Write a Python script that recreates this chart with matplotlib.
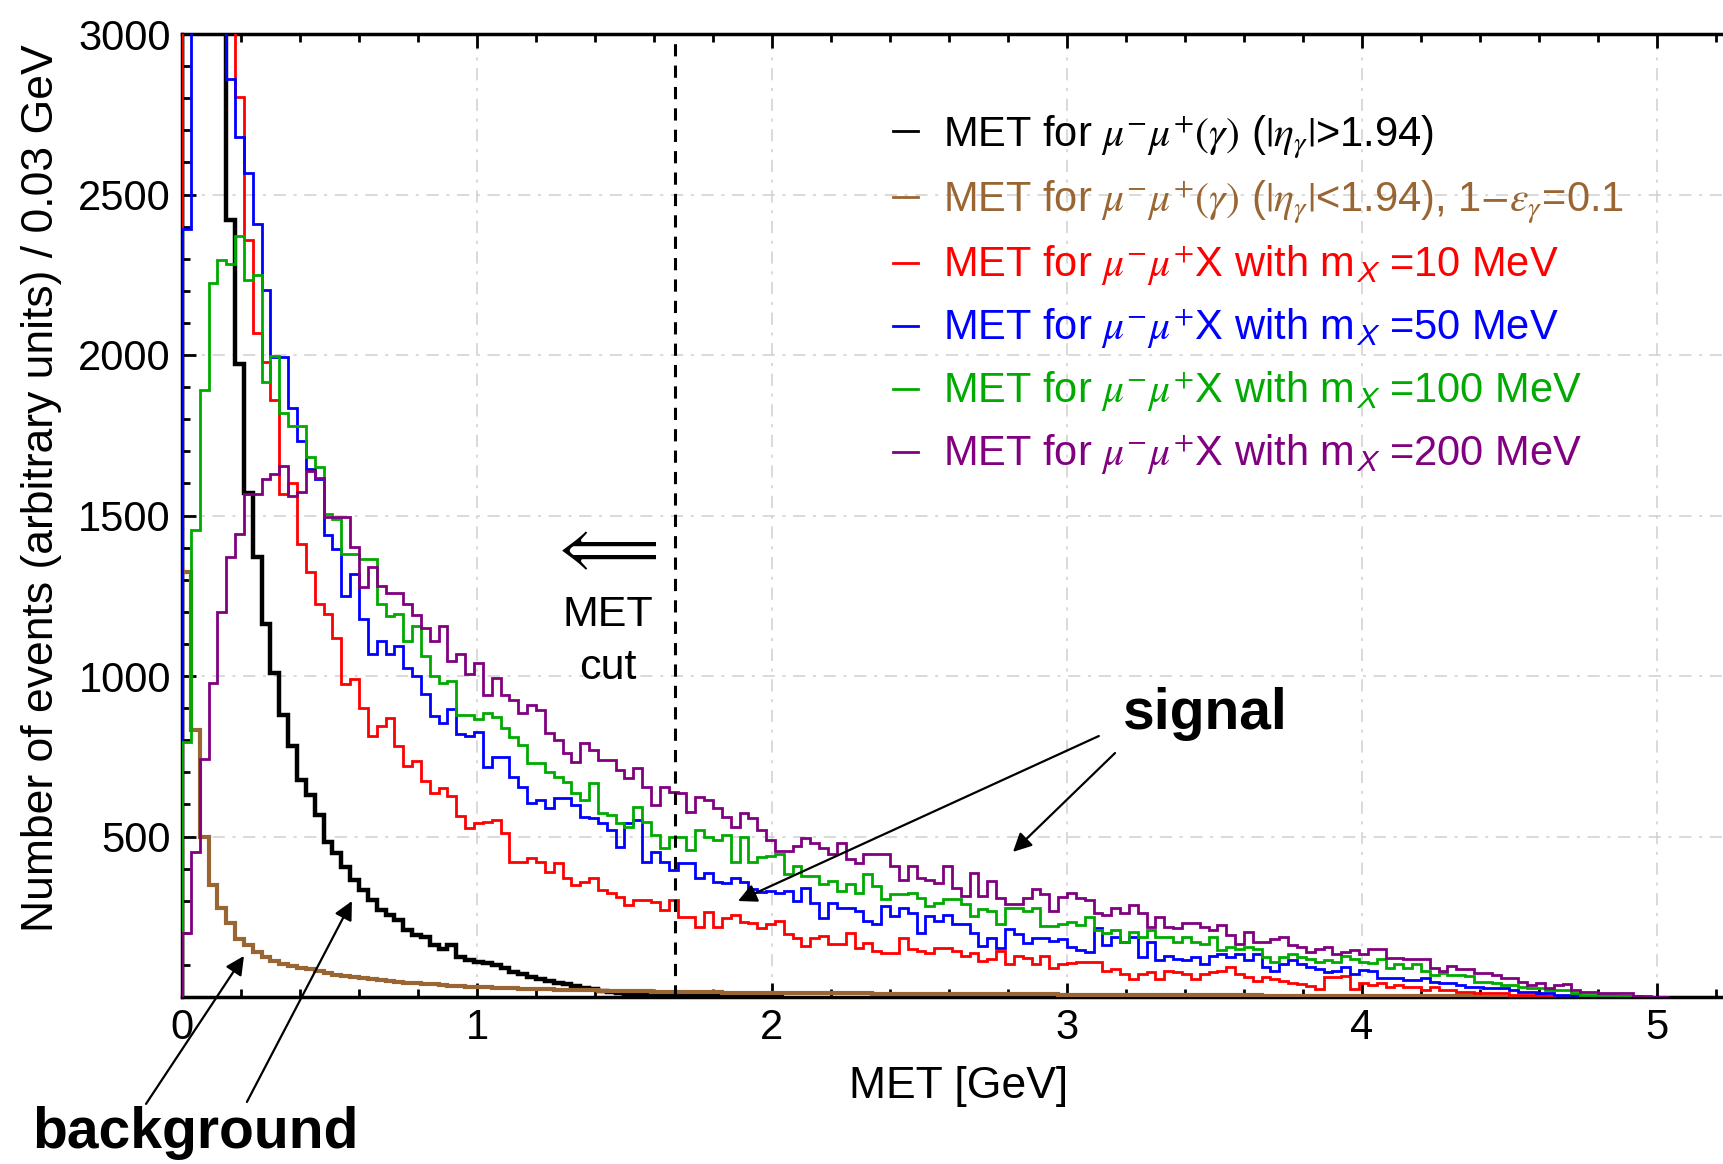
import numpy as np
import matplotlib
matplotlib.use("Agg")
import matplotlib.pyplot as plt
from matplotlib.lines import Line2D

plt.rcParams['font.family'] = ['Liberation Sans', 'DejaVu Sans']
plt.rcParams['mathtext.fontset'] = 'stix'

BIN_WIDTH = 0.03
MET_CUT = 1.67

black = [3400, 4600, 5000, 4400, 3500, 2421, 1973, 1569, 1370, 1161,
         1010, 880, 781, 677, 630, 568, 484, 448, 406, 365,
         333, 302, 271, 255, 240, 208, 193, 187, 161, 151,
         161, 125, 115, 109, 105, 100, 90, 78, 72, 62,
         57, 50, 44, 40, 33, 29, 24, 19, 15, 12,
         10, 8, 7, 6, 5, 4, 4, 3, 3, 2,
         2, 2, 1, 1, 1, 1, 1, 0]

brown = [1323, 833, 500, 349, 276, 229, 182, 161, 140, 125,
         112, 102, 96, 91, 86, 80, 75, 70, 65, 61,
         58, 55, 52, 49, 47, 45, 43, 41, 39, 37,
         35, 33, 32, 31, 30, 29, 28, 27, 26, 26,
         25, 24, 23, 23, 22, 21, 21, 20, 20, 19,
         19, 18, 18, 17, 17, 17, 16, 16, 15, 15,
         15, 14, 14, 14, 13, 13, 13, 13, 12, 12,
         12, 12, 12, 11, 11, 11, 11, 11, 10, 10,
         10, 10, 10, 10, 9, 9, 9, 9, 9, 9,
         9, 8, 8, 8, 8, 8, 8, 8, 8, 7,
         7, 7, 7, 7, 7, 7, 6, 6, 6, 6,
         6, 6, 6, 6, 5, 5, 5, 5, 5, 5,
         5, 5, 4, 4, 4, 4, 4, 4, 4, 4,
         3, 3, 3, 3, 3, 3, 3, 3, 2, 2,
         2, 2, 2, 2, 2, 2, 1, 1, 1, 1,
         1, 1, 1, 1, 0]

red = [3300, 4500, 5000, 4400, 3800, 3200, 2805, 2358, 2067, 1979,
       1860, 1567, 1600, 1411, 1323, 1224, 1193, 1117, 974, 990,
       901, 812, 844, 870, 781, 719, 734, 672, 635, 651,
       625, 563, 526, 541, 546, 551, 510, 421, 421, 432,
       421, 390, 416, 370, 349, 359, 370, 333, 323, 313,
       287, 302, 302, 295, 271, 302, 250, 250, 219, 266,
       219, 245, 255, 235, 229, 214, 228, 237, 195, 185,
       159, 185, 190, 164, 164, 200, 154, 169, 143, 138,
       138, 185, 148, 143, 138, 154, 154, 143, 128, 138,
       112, 117, 143, 102, 128, 123, 102, 128, 91, 102,
       105, 108, 108, 108, 82, 87, 72, 56, 72, 77,
       56, 82, 77, 72, 56, 72, 77, 82, 93, 72,
       61, 51, 61, 56, 51, 45, 40, 35, 24, 61,
       61, 66, 24, 44, 37, 43, 32, 37, 32, 32,
       21, 32, 21, 21, 16, 16, 11, 11, 11, 11,
       5, 5, 5, 5, 2, 1, 0]

blue = [2392, 3600, 4300, 4100, 3400, 2861, 2680, 2567, 2407, 2201,
        1995, 1995, 1835, 1732, 1644, 1613, 1440, 1396, 1250, 1318,
        1177, 1068, 1109, 1068, 1094, 1026, 1000, 943, 875, 854,
        896, 818, 813, 827, 718, 749, 749, 686, 655, 603,
        614, 588, 619, 619, 598, 562, 557, 541, 520, 468,
        541, 551, 421, 453, 421, 396, 416, 416, 370, 385,
        359, 354, 370, 359, 338, 328, 330, 325, 330, 299,
        340, 294, 247, 294, 278, 278, 268, 237, 226, 283,
        252, 278, 263, 200, 252, 237, 257, 226, 226, 200,
        159, 185, 154, 211, 195, 169, 185, 185, 174, 182,
        156, 145, 140, 214, 161, 187, 172, 187, 124, 172,
        114, 129, 119, 114, 124, 103, 129, 135, 124, 135,
        114, 135, 93, 82, 103, 114, 103, 93, 87, 77,
        82, 93, 72, 84, 80, 59, 59, 59, 53, 53,
        59, 48, 43, 43, 37, 32, 32, 27, 27, 27,
        21, 16, 16, 11, 11, 6, 5, 5, 4, 4,
        3, 3, 3, 2, 2, 1, 0]

green = [795, 1455, 1891, 2223, 2296, 2285, 2371, 2234, 2249, 1917,
         1997, 1818, 1779, 1779, 1683, 1652, 1505, 1490, 1380, 1380,
         1365, 1365, 1224, 1188, 1193, 1109, 1156, 1063, 1000, 979,
         984, 880, 880, 865, 884, 873, 837, 811, 785, 728,
         728, 702, 686, 671, 634, 614, 666, 572, 567, 541,
         530, 593, 546, 505, 463, 499, 499, 458, 520, 499,
         489, 505, 421, 499, 421, 437, 440, 444, 382, 408,
         377, 377, 351, 361, 330, 351, 325, 382, 346, 304,
         320, 320, 325, 309, 283, 294, 304, 304, 289, 252,
         273, 268, 226, 278, 278, 268, 278, 221, 221, 228,
         235, 224, 250, 208, 198, 208, 172, 203, 187, 208,
         187, 187, 172, 187, 172, 166, 187, 145, 156, 151,
         156, 151, 124, 108, 124, 135, 124, 119, 108, 114,
         108, 129, 119, 110, 107, 118, 91, 102, 91, 102,
         80, 70, 75, 70, 70, 64, 48, 48, 43, 37,
         37, 32, 27, 27, 21, 21, 21, 14, 7, 7,
         5, 5, 3, 2, 1, 0]

purple = [198, 453, 740, 979, 1198, 1370, 1443, 1568, 1568, 1613,
          1629, 1655, 1562, 1572, 1639, 1618, 1495, 1495, 1495, 1401,
          1276, 1339, 1281, 1260, 1260, 1225, 1190, 1150, 1110, 1156,
          1047, 1068, 1005, 1039, 941, 993, 941, 925, 884, 910,
          894, 821, 801, 759, 733, 790, 769, 738, 738, 707,
          681, 712, 655, 598, 655, 640, 634, 577, 624, 614,
          588, 562, 531, 572, 557, 520, 490, 455, 455, 470,
          496, 481, 465, 444, 481, 429, 418, 444, 444, 444,
          408, 366, 408, 371, 366, 356, 408, 340, 315, 387,
          315, 361, 309, 289, 289, 309, 335, 320, 268, 310,
          324, 308, 303, 261, 256, 277, 261, 287, 261, 219,
          250, 219, 214, 229, 229, 219, 208, 224, 193, 166,
          203, 172, 172, 182, 187, 161, 156, 140, 151, 156,
          135, 140, 145, 134, 150, 150, 123, 123, 118, 118,
          118, 91, 80, 96, 86, 86, 75, 75, 70, 59,
          59, 48, 37, 43, 27, 37, 40, 21, 16, 16,
          11, 11, 11, 11, 3, 3, 1, 0]

labels = [
    r"MET for $\mu^{-}\mu^{+}(\gamma)$ ($|\eta_{\gamma}|$>1.94)",
    r"MET for $\mu^{-}\mu^{+}(\gamma)$ ($|\eta_{\gamma}|$<1.94), 1$-\epsilon_{\gamma}$=0.1",
    r"MET for $\mu^{-}\mu^{+}$X with m$_{\mathsf{X}}$ =10 MeV",
    r"MET for $\mu^{-}\mu^{+}$X with m$_{\mathsf{X}}$ =50 MeV",
    r"MET for $\mu^{-}\mu^{+}$X with m$_{\mathsf{X}}$ =100 MeV",
    r"MET for $\mu^{-}\mu^{+}$X with m$_{\mathsf{X}}$ =200 MeV",
]
series = [black, brown, red, blue, green, purple]
colors = ['#000000', '#996633', '#ff0000', '#0000ff', '#00aa00', '#800080']
widths = [3.2, 3.0, 2.0, 2.0, 2.0, 2.0]

fig = plt.figure(figsize=(17.23, 11.64), dpi=100)
ax = fig.add_axes([182/1723, 1-997/1164, 1541/1723, 963/1164])

for vals, c, lw in zip(series, colors, widths):
    edges = np.arange(len(vals) + 1) * BIN_WIDTH
    ax.stairs(vals, edges, color=c, linewidth=lw, baseline=0, zorder=3)

ax.axvline(MET_CUT, color='black', linestyle=(0, (4, 3)), linewidth=2.2, zorder=4)

ax.set_xlim(0, 5.224)
ax.set_ylim(0, 3000)
ax.set_xticks([0, 1, 2, 3, 4, 5])
ax.set_xticks(np.arange(0, 5.21, 0.2), minor=True)
ax.set_yticks([500, 1000, 1500, 2000, 2500, 3000])
ax.set_yticks(np.arange(100, 3000, 100), minor=True)
ax.tick_params(which='both', direction='in', top=True, right=False,
               labelsize=30, width=2)
ax.tick_params(which='major', length=10, pad=8)
ax.tick_params(which='minor', length=6)
ax.grid(which='major', color='#cfcfcf', linestyle=(0, (8, 5, 2, 5)), linewidth=1.1)
ax.set_axisbelow(True)
for s in ['left', 'bottom', 'top']:
    ax.spines[s].set_linewidth(2.5)
ax.spines['right'].set_visible(False)

ax.set_xlabel("MET [GeV]", fontsize=32, labelpad=10)
ax.xaxis.set_label_coords(0.504, -0.0715)
ax.set_ylabel("Number of events (arbitrary units) / 0.03 GeV", fontsize=32)
ax.yaxis.set_label_coords(-0.078, 0.528)

handles = [Line2D([], [], color=c, linewidth=2.0) for c in colors]
leg = ax.legend(handles, labels, loc='upper left', bbox_to_anchor=(0.4615, 0.918),
                frameon=False, fontsize=30, handlelength=0.6, handletextpad=0.6,
                labelspacing=0.45, borderaxespad=0, borderpad=0, labelcolor='linecolor')

ax.text(1.426, 1393, r"$\Longleftarrow$", fontsize=46, ha='center', va='center')
ax.text(1.444, 1190, "MET", fontsize=31, ha='center', va='center')
ax.text(1.444, 1025, "cut", fontsize=31, ha='center', va='center')

ax.text(3.468, 882, "signal", fontsize=41, fontweight='bold', ha='center', va='center')
ax.text(0.044, -425, "background", fontsize=41, fontweight='bold', ha='center', va='center',
        clip_on=False)

arrow = dict(arrowstyle='-|>', color='black', lw=1.6, mutation_scale=28, shrinkA=0, shrinkB=0)
ax.annotate("", xy=(1.885, 299), xytext=(3.108, 813), arrowprops=arrow, annotation_clip=False)
ax.annotate("", xy=(2.817, 452), xytext=(3.163, 760), arrowprops=arrow, annotation_clip=False)
ax.annotate("", xy=(0.210, 128), xytext=(-0.122, -333), arrowprops=arrow, annotation_clip=False)
ax.annotate("", xy=(0.576, 299), xytext=(0.220, -327), arrowprops=arrow, annotation_clip=False)

fig.savefig("out.png", dpi=100)
